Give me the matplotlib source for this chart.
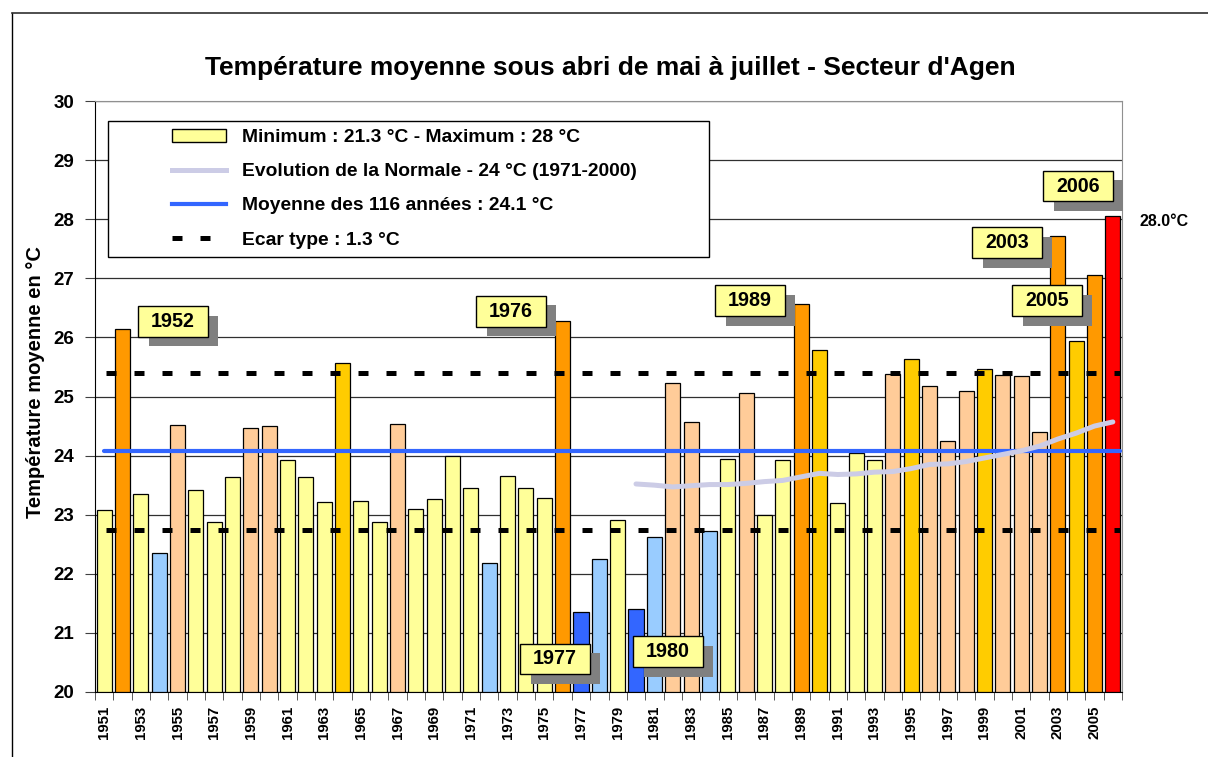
import matplotlib
matplotlib.use('Agg')
import matplotlib.pyplot as plt
from matplotlib.patches import Patch, Rectangle
from matplotlib.lines import Line2D
import numpy as np

plt.rcParams['font.family'] = ['Liberation Sans', 'DejaVu Sans']
plt.rcParams['font.weight'] = 'bold'

# mean May-July temperature, Agen, 1951-2006
years = list(range(1951, 2007))
temps = [23.08, 26.14, 23.35, 22.36, 24.51, 23.42, 22.88, 23.63, 24.46, 24.50,
         23.92, 23.64, 23.21, 25.56, 23.24, 22.88, 24.53, 23.10, 23.27, 23.99,
         23.45, 22.18, 23.66, 23.45, 23.28, 26.27, 21.36, 22.25, 22.91, 21.41,
         22.62, 25.22, 24.57, 22.72, 23.95, 25.06, 23.00, 23.93, 26.57, 25.79,
         23.19, 24.04, 23.93, 25.38, 25.64, 25.17, 24.24, 25.09, 25.46, 25.37,
         25.35, 24.40, 27.72, 25.94, 27.05, 28.05]

# evolution of the 30-year normal
normal_years = list(range(1980, 2007))
normal_vals = [23.52, 23.50, 23.47, 23.49, 23.51, 23.51, 23.53, 23.56, 23.58, 23.64,
               23.70, 23.68, 23.69, 23.72, 23.73, 23.78, 23.85, 23.86, 23.90, 23.96,
               24.02, 24.08, 24.16, 24.28, 24.38, 24.50, 24.57]

mean_116 = 24.07
std_dev = 1.33

# highlighted years and where their label boxes sit (box centres)
label_years = ['1952', '1976', '1977', '1980', '1989', '2003', '2005', '2006']
label_x = [1954.75, 1973.18, 1975.58, 1981.74, 1986.21, 2000.23, 2002.41, 2004.10]
label_y = [26.27, 26.44, 20.56, 20.68, 26.62, 27.60, 26.62, 28.56]

legend_labels = ['Minimum : 21.3 °C - Maximum : 28 °C',
                 'Evolution de la Normale - 24 °C (1971-2000)',
                 'Moyenne des 116 années : 24.1 °C',
                 'Ecar type : 1.3 °C']


def bar_colour(t):
    lo, hi = mean_116 - std_dev, mean_116 + std_dev
    if t == max(temps):
        return '#FF0000'
    if t >= 26:
        return '#FF9900'
    if t > hi:
        return '#FFCC00'
    if t >= mean_116:
        return '#FFCC99'
    if t >= lo:
        return '#FFFF99'
    if t >= 21.5:
        return '#99CCFF'
    return '#3366FF'


fig = plt.figure(figsize=(12.08, 7.57), dpi=100)
ax = fig.add_axes([95 / 1208, 1 - 692 / 757, 1027 / 1208, 591 / 757])

ax.bar(years, [t - 20 for t in temps], bottom=20, width=0.82,
       color=[bar_colour(t) for t in temps], edgecolor='black', linewidth=0.9, zorder=3)

ax.plot([1951, 2006.4], [mean_116, mean_116], color='#3366FF', lw=3, zorder=4,
        solid_capstyle='round')
for lvl in (mean_116 - std_dev, mean_116 + std_dev):
    ax.plot([1951.1, 2006.4], [lvl, lvl], color='black', lw=3.6, dashes=(2, 3.6), zorder=5)
ax.plot(normal_years, normal_vals, color='#CCCCE6', lw=3.6, zorder=4, solid_capstyle='round')

ax.set_xlim(1950.5, 2006.5)
ax.set_ylim(20, 30)
ax.set_yticks(range(20, 31))
ax.tick_params(axis='y', labelsize=13.5, length=7, color='#404040', pad=8)
ax.set_xticks(years[::2])
ax.set_xticklabels([str(y) for y in years[::2]], rotation=90, fontsize=10.8)
ax.set_xticks(np.arange(1950.5, 2007, 1), minor=True)
ax.tick_params(axis='x', which='major', length=0, pad=10)
ax.tick_params(axis='x', which='minor', length=6, color='#404040')
ax.yaxis.grid(True, color='#303030', lw=0.9, zorder=0)
ax.set_axisbelow(True)
ax.spines['top'].set_color('#909090')
ax.spines['right'].set_color('#909090')

# label boxes with a grey drop shadow (box size in data units: ~70 x 31 px)
box_w, box_h = 3.8, 0.52
shadow_dx, shadow_dy = 0.57, -0.16
for txt, x, y in zip(label_years, label_x, label_y):
    ax.add_patch(Rectangle((x - box_w / 2 + shadow_dx, y - box_h / 2 + shadow_dy), box_w, box_h,
                           fc='#808080', ec='none', zorder=6, clip_on=False))
    ax.add_patch(Rectangle((x - box_w / 2, y - box_h / 2), box_w, box_h,
                           fc='#FFFF99', ec='black', lw=1, zorder=7, clip_on=False))
    ax.text(x, y, txt, ha='center', va='center', fontsize=14.2, zorder=8)

ax.annotate('28.0°C', xy=(years[-1], temps[-1]), xytext=(19, -4),
            textcoords='offset points', ha='left', va='center', fontsize=11.5,
            annotation_clip=False)

# legend with its own frame
ax.add_patch(Rectangle((0.0127, 0.736), 0.585, 0.23, transform=ax.transAxes,
                       fc='white', ec='black', lw=1, zorder=8))
handles = [Patch(fc='#FFFF99', ec='black', lw=1),
           Line2D([], [], color='#CCCCE6', lw=3.6),
           Line2D([], [], color='#3366FF', lw=3),
           Line2D([], [], color='black', lw=3.6, dashes=(2, 3.6))]
leg = ax.legend(handles, legend_labels, loc='upper left', bbox_to_anchor=(0.075, 0.952),
                frameon=False, fontsize=13.9, handlelength=2.8, handleheight=0.62,
                handletextpad=0.83, labelspacing=0.88, borderpad=0, borderaxespad=0)
leg.set_zorder(9)

fig.text(0.505, 0.910, "Température moyenne sous abri de mai à juillet - Secteur d'Agen",
         ha='center', va='center', fontsize=19)
fig.text(0.029, 0.495, 'Température moyenne en °C', rotation=90,
         ha='center', va='center', fontsize=14.5)

# outer frame of the chart area
fig.add_artist(Line2D([11.5 / 1208, 11.5 / 1208], [0, 1 - 12.5 / 757], color='black', lw=1))
fig.add_artist(Line2D([11.5 / 1208, 1], [1 - 12.5 / 757, 1 - 12.5 / 757], color='#303030', lw=1.2))

fig.savefig('out.png', dpi=100)
